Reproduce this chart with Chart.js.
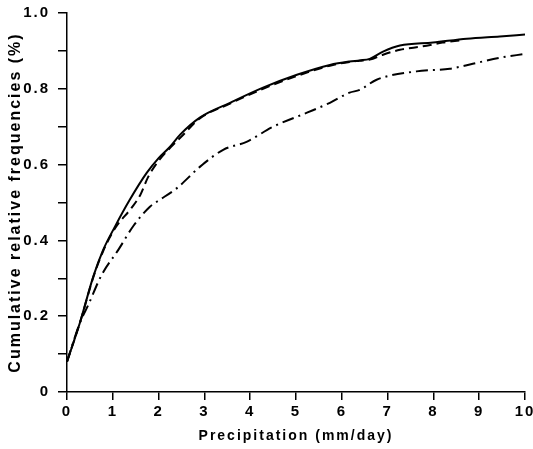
<!DOCTYPE html>
<html><head><meta charset="utf-8">
<script src="https://cdn.jsdelivr.net/npm/chart.js@4"></script>
<style>html,body{margin:0;padding:0;background:#fff}</style>
</head><body>
<canvas id="c" width="533" height="449"></canvas>
<script>
// X-axis tick values (mm/day)
const xTickValues = [0,1,2,3,4,5,6,7,8,9,10];
// Y-axis tick labels (minor ticks unlabeled)
const yTickLabels = ['0','','0.2','','0.4','','0.6','','0.8','','1.0'];

// Solid curve
const solidX = [0, 0.28, 0.575, 0.79, 1.05, 1.37, 1.74, 2.0, 2.25, 2.47, 2.9, 3.56, 4.28, 5.02, 5.74, 6.17, 6.39, 6.61, 6.9, 7.27, 7.99, 8.73, 9.45, 10];
const solidY = [0.08, 0.182, 0.305, 0.375, 0.437, 0.507, 0.578, 0.617, 0.647, 0.679, 0.724, 0.763, 0.803, 0.837, 0.863, 0.872, 0.875, 0.879, 0.898, 0.914, 0.922, 0.932, 0.938, 0.943];

// Dashed curve
const dashedX = [0, 0.28, 0.575, 0.79, 1.05, 1.41, 1.6, 1.77, 2.0, 2.3, 2.5, 2.9, 3.56, 4.28, 5.02, 5.74, 6.17, 6.39, 6.61, 6.9, 7.27, 7.77, 8.2, 8.6];
const dashedY = [0.08, 0.182, 0.303, 0.372, 0.432, 0.486, 0.52, 0.567, 0.61, 0.65, 0.674, 0.722, 0.761, 0.8, 0.834, 0.861, 0.871, 0.874, 0.877, 0.89, 0.903, 0.912, 0.922, 0.928];

// Dash-dot curve
const dashDotX = [0, 0.28, 0.465, 0.757, 1.12, 1.46, 1.81, 1.96, 2.4, 2.9, 3.41, 3.92, 4.5, 5.24, 5.74, 6.17, 6.39, 6.76, 7.63, 8.36, 8.86, 9.45, 10];
const dashDotY = [0.08, 0.182, 0.23, 0.309, 0.375, 0.44, 0.489, 0.502, 0.538, 0.594, 0.639, 0.66, 0.7, 0.737, 0.763, 0.79, 0.797, 0.824, 0.846, 0.853, 0.866, 0.882, 0.892];

const toPts = (xs, ys) => xs.map((x, i) => ({x: x, y: ys[i]}));

const spacing = {
  id: 'spacing',
  beforeUpdate(chart){ chart.ctx.letterSpacing = '2px'; },
  beforeDraw(chart){ chart.ctx.letterSpacing = '2px'; }
};

Chart.defaults.font.family = "'Liberation Sans', Arial, sans-serif";
Chart.defaults.color = '#000';

const lineBase = {borderColor:'#000', borderWidth:2, pointRadius:0, fill:false, cubicInterpolationMode:'monotone'};

new Chart(document.getElementById('c'), {
  type: 'line',
  data: {
    datasets: [
      Object.assign({label:'solid', data: toPts(solidX, solidY)}, lineBase),
      Object.assign({label:'dashed', data: toPts(dashedX, dashedY), borderDash:[9,5]}, lineBase),
      Object.assign({label:'dashdot', data: toPts(dashDotX, dashDotY), borderDash:[12,5,2,5]}, lineBase)
    ]
  },
  options: {
    responsive: false,
    animation: false,
    devicePixelRatio: 1,
    layout: {padding: {top: 13, right: 8, left: 0, bottom: 0}},
    plugins: {legend: {display: false}, tooltip: {enabled: false}},
    scales: {
      x: {
        type: 'linear', min: 0, max: 10,
        afterBuildTicks(s){ s.ticks = xTickValues.map(v => ({value: v})); },
        ticks: {color:'#000', padding: 3, maxRotation: 0, autoSkip: false, font: {size: 15, weight: 'bold'}},
        grid: {drawOnChartArea: false, drawTicks: true, tickLength: 8, color: '#000', lineWidth: 1.5},
        border: {color: '#000', width: 1.5},
        title: {display: true, text: 'Precipitation (mm/day)', color: '#000', font: {size: 14, weight: 'bold'}, padding: {top: 0, bottom: 4}},
        afterFit(s){ s.height = 57; s.paddingLeft = 0; s.paddingRight = 0; }
      },
      y: {
        type: 'linear', min: 0, max: 1,
        afterBuildTicks(s){ s.ticks = yTickLabels.map((t, i) => ({value: i / 10})); },
        ticks: {color:'#000', padding: 8, autoSkip: false, font: {size: 15, weight: 'bold'},
          callback: (v, i) => yTickLabels[i]},
        grid: {drawOnChartArea: false, drawTicks: true, tickLength: 9, color: '#000', lineWidth: 1.5},
        border: {color: '#000', width: 1.5},
        title: {display: true, text: 'Cumulative relative frequencies (%)', color: '#000', font: {size: 16, weight: 'bold'}, padding: {top: 6, bottom: 0}},
        afterFit(s){ s.width = 67; s.paddingTop = 0; s.paddingBottom = 0; }
      }
    }
  },
  plugins: [spacing]
});
</script>
</body></html>
